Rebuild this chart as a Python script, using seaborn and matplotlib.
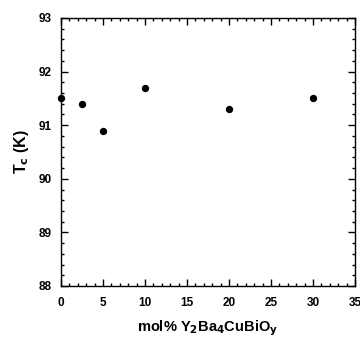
import matplotlib
matplotlib.use("Agg")
import matplotlib.pyplot as plt
import seaborn as sns
import pandas as pd
from matplotlib.ticker import MultipleLocator

sns.set_theme(style="ticks")
plt.rcParams['font.family'] = ['Liberation Sans', 'DejaVu Sans']
plt.rcParams['mathtext.default'] = 'bf'
plt.rcParams['text.color'] = 'black'
plt.rcParams['axes.labelcolor'] = 'black'
plt.rcParams['xtick.color'] = 'black'
plt.rcParams['ytick.color'] = 'black'

mol_pct = [0, 2.5, 5, 10, 20, 30]
tc = [91.5, 91.4, 90.9, 91.7, 91.3, 91.5]
df = pd.DataFrame({"x": mol_pct, "y": tc})

fig = plt.figure(figsize=(3.6, 3.41), dpi=100)
ax = fig.add_axes([61/360, 1 - 286/341, (355-61)/360, (286-18)/341])
sns.scatterplot(data=df, x="x", y="y", ax=ax, color="black", s=28,
                edgecolor="black", linewidth=0, clip_on=False, zorder=5)

ax.set_xlim(0, 35)
ax.set_ylim(88, 93)
ax.xaxis.set_major_locator(MultipleLocator(5))
ax.xaxis.set_minor_locator(MultipleLocator(1))
ax.yaxis.set_major_locator(MultipleLocator(1))
ax.yaxis.set_minor_locator(MultipleLocator(0.2))
ax.tick_params(which='both', direction='in', top=True, right=True,
               width=1, colors='black', labelsize=8.5, labelcolor='black')
ax.tick_params(axis='x', which='major', pad=8)
ax.tick_params(axis='y', which='major', pad=7)
ax.tick_params(which='major', length=5)
ax.tick_params(which='minor', length=2.5)
for lab in ax.get_xticklabels() + ax.get_yticklabels():
    lab.set_fontweight('bold')
for s in ax.spines.values():
    s.set_linewidth(1)
    s.set_color('black')

ax.set_xlabel(r"mol% Y$_{\mathbf{2}}$Ba$_{\mathbf{4}}$CuBiO$_{\mathbf{y}}$",
              fontsize=10.5, fontweight='bold', labelpad=7, color='black')
ax.set_ylabel(r"T$_{\mathbf{c}}$ (K)", fontsize=11.5, fontweight='bold',
              labelpad=5, color='black')

fig.savefig("out.png", dpi=100)
